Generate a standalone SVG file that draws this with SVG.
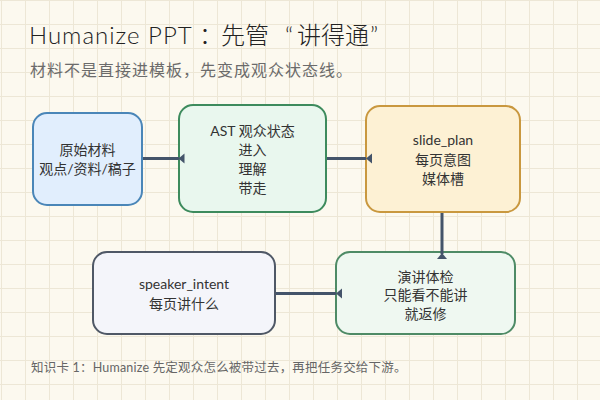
<svg xmlns="http://www.w3.org/2000/svg" width="600" height="400" viewBox="0 0 600 400">
<defs>
<pattern id="grid" x="1" y="0" width="24" height="24" patternUnits="userSpaceOnUse">
<rect x="0" y="0" width="1" height="24" fill="#ede7d6"/>
<rect x="0" y="0" width="24" height="1" fill="#ede7d6"/>
</pattern>
<style>
text{font-family:"Lato","Noto Sans CJK SC",sans-serif;}
.title{font-size:24px;fill:#222;font-weight:300;}
.sub{font-size:16px;fill:#6b6b6b;letter-spacing:1px;}
.foot{font-size:12.5px;fill:#666;letter-spacing:0.2px;}
.lbl{font-size:14px;fill:#333;text-anchor:middle;}
.box{stroke-width:2;}
.conn{stroke:#44546a;stroke-width:3;fill:none;}
.head{fill:#44546a;}
</style>
</defs>
<rect width="600" height="400" fill="#fcf9ef"/>
<rect width="600" height="400" fill="url(#grid)"/>
<text class="title" x="29" y="44"><tspan letter-spacing="1">Humanize PPT</tspan><tspan x="199">：</tspan><tspan x="221">先管</tspan><tspan x="285">“</tspan><tspan x="297">讲得通</tspan><tspan x="370">”</tspan></text>
<text class="sub" x="30" y="76">材料不是直接进模板，先变成观众状态线。</text>
<g id="n_raw">
<rect class="box" x="33" y="113" width="109" height="92" rx="14" fill="#e1eefd" stroke="#4a86b8"/>
<text class="lbl" x="87.5" y="155">原始材料</text>
<text class="lbl" x="87.5" y="174">观点/资料/稿子</text>
</g>
<g id="n_ast">
<rect class="box" x="179" y="105" width="147" height="107" rx="14" fill="#e9f7ee" stroke="#3d8b5d"/>
<text class="lbl" x="252.5" y="136">AST 观众状态</text>
<text class="lbl" x="252.5" y="155">进入</text>
<text class="lbl" x="252.5" y="174">理解</text>
<text class="lbl" x="252.5" y="193">带走</text>
</g>
<g id="n_plan">
<rect class="box" x="366" y="106" width="154" height="106" rx="14" fill="#fdf1d4" stroke="#c9983f"/>
<text class="lbl" x="443" y="145">slide_plan</text>
<text class="lbl" x="443" y="165">每页意图</text>
<text class="lbl" x="443" y="184">媒体槽</text>
</g>
<g id="n_check">
<rect class="box" x="336" y="252" width="179" height="82" rx="14" fill="#eff8f1" stroke="#4e8b66"/>
<text class="lbl" x="425.5" y="282">演讲体检</text>
<text class="lbl" x="425.5" y="300">只能看不能讲</text>
<text class="lbl" x="425.5" y="319">就返修</text>
</g>
<g id="n_intent">
<rect class="box" x="93" y="252" width="182" height="82" rx="14" fill="#f4f5fa" stroke="#4f5866"/>
<text class="lbl" x="184" y="289">speaker_intent</text>
<text class="lbl" x="184" y="309">每页讲什么</text>
</g>
<g id="connectors">
<line class="conn" x1="143" y1="158.5" x2="179" y2="158.5"/>
<polygon class="head" points="178.5,158.5 184.5,153.5 184.5,163.5"/>
<line class="conn" x1="327" y1="158.5" x2="366" y2="158.5"/>
<polygon class="head" points="366,158.5 372,153.5 372,163.5"/>
<line class="conn" x1="442" y1="213" x2="442" y2="254"/>
<polygon class="head" points="442,253 437,259 447,259"/>
<line class="conn" x1="276" y1="293.5" x2="336" y2="293.5"/>
<polygon class="head" points="336,293.5 342,288.5 342,298.5"/>
</g>
<text class="foot" x="31" y="372">知识卡 1：Humanize 先定观众怎么被带过去，再把任务交给下游。</text>
</svg>
